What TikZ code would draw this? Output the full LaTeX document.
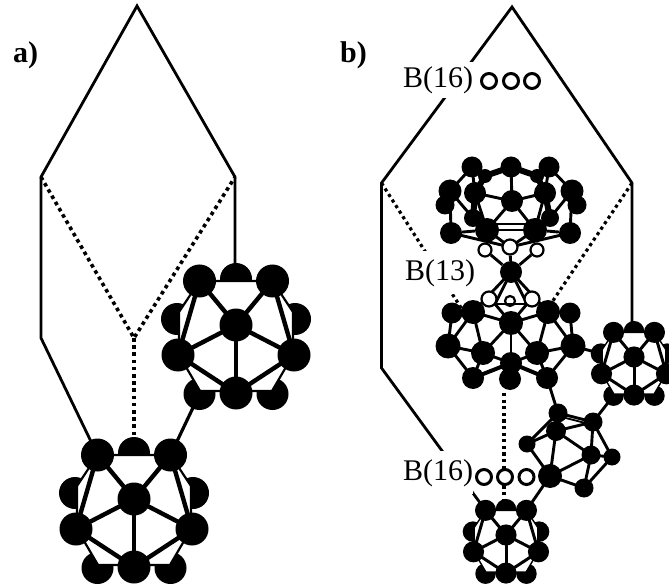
\documentclass[tikz,border=0pt]{standalone}
\usepackage{fontspec}
\usetikzlibrary{backgrounds}
\setmainfont{Liberation Serif}
\tikzset{
  atom/.style={circle,fill=black,inner sep=0pt,minimum size=#1},
  ringatom/.style={circle,draw=black,fill=white,line width=2.2pt,inner sep=0pt,minimum size=#1},
  frameline/.style={line width=2.8pt,line join=miter},
  dotline/.style={line width=3.6pt,dash pattern=on 3.6pt off 3.6pt},
  dotlineb/.style={line width=3.2pt,dash pattern=on 3.2pt off 3.4pt},
  bond/.style={line width=2.9pt},
  thinbond/.style={line width=1.8pt},
  heavybond/.style={line width=6pt},
  biglabel/.style={font=\fontsize{30}{30}\selectfont\bfseries,anchor=base west,inner sep=0pt},
  atomlabel/.style={font=\fontsize{30}{30}\selectfont,anchor=base west,inner xsep=0pt,inner ysep=#1,fill=white}
}
% fullerene-like cage: name, x, y, scale
\newcommand{\cagemol}[4]{%
  \pgfmathsetlengthmacro{\cbig}{33pt*#4+6pt*(1-#4)}%
  \pgfmathsetlengthmacro{\cback}{32pt*#4+6pt*(1-#4)}%
  \pgfmathsetlengthmacro{\cbond}{3.2pt*#4+1.2pt}%
  \pgfmathsetlengthmacro{\cthin}{max(1.4pt,2.2pt*#4)}%
  \begin{scope}[shift={(#2,#3)},scale=#4]
    \foreach \n/\x/\y in {TM/0/-46,BL/-59/-6,BR/59/-6,BBL/-36.5/69,BBR/36.5/69}
      \node[atom=\cback] (#1\n) at (\x,\y) {};
    \coordinate (#1a) at (-36.5,-44);
    \coordinate (#1b) at (36.5,-44);
    \coordinate (#1c) at (57,-13);
    \coordinate (#1d) at (57,30);
    \coordinate (#1e) at (36,66);
    \coordinate (#1f) at (-36,66);
    \coordinate (#1g) at (-57,30);
    \coordinate (#1h) at (-57,-13);
    \draw[black,fill=white,line width=\cthin] (#1a)--(#1b)--(#1c)--(#1d)--(#1e)--(#1f)--(#1g)--(#1h)--cycle;
    \foreach \n/\x/\y in {TL/-36.5/-44,TR/36.5/-44,C/0/0,L/-58/30,R/58/30,B/0/68}
      \node[atom=\cbig] (#1\n) at (\x,\y) {};
    \foreach \a/\b in {TL/C,TR/C,C/L,C/R,C/B,TL/L,TR/R,L/B,R/B}
      \draw[line width=\cbond] (#1\a.center)--(#1\b.center);
  \end{scope}%
}
\begin{document}
\begin{tikzpicture}[x=1pt,y=-1pt]
\useasboundingbox (0,0) rectangle (669,585);
% ---- cages, panel a
\cagemol{P}{134}{499}{1}
\cagemol{Q}{236}{325}{1}
% ---- cages, panel b
\cagemol{S}{506}{535}{0.56}
\cagemol{T}{634}{357}{0.56}
% ---- upper central cage
\foreach \n/\x/\y/\d in {u1/472/167/21,u2/511/167/21,u3/549/167/21,u17/485/176/14,u18/537/176/14,
   u9/445/205/19,u10/577/205/19,u11/473/218/18,u12/550/218/18}
  \node[atom=\d pt] (\n) at (\x,\y) {};
\foreach \n/\x/\y/\d in {u4/450/191/23,u5/475/193/22,u6/512/201/22,u7/545/193/22,u8/572/191/23,
   u13/451/233/22,u14/487/230/24,u15/535/230/24,u16/570/233/22}
  \node[atom=\d pt] (\n) at (\x,\y) {};
\foreach \n/\x/\y/\d in {w2/485/250/13,w3/537/250/13}
  \node[ringatom=\d pt] (\n) at (\x,\y) {};
\node[atom=22pt] (k) at (511,272) {};
\foreach \a/\b in {u1/u4,u3/u8,u1/u5,u3/u7,u2/u6,u6/u5,u6/u7,u6/u14,u6/u15,u5/u14,u7/u15,
   u4/u13,u8/u16,u4/u11,u8/u12,u9/u4,u10/u8}
  \draw[bond] (\a.center)--(\b.center);
\draw[bond] (w2)--(k);
\draw[bond] (w3)--(k);
\foreach \a/\b in {u1/u17,u17/u2,u2/u18,u18/u3,u17/u5,u18/u7,u11/u14,u12/u15,u5/u11,u7/u12}
  \draw[heavybond] (\a.center)--(\b.center);
\draw[thinbond] (u14)--(u15);
\draw[thinbond] ([yshift=6pt]u14.center)--([yshift=6pt]u15.center);
\draw[bond] (u13.center)--(510,247)--(u16.center);
\draw[bond] (u13)--(u14);
\draw[bond] (u15)--(u16);
\draw[bond] (u14.center)--(510,247)--(u15.center);
\node[ringatom=15pt] (w1) at (510,247) {};
\draw[bond] (w1)--(k);
% ---- lower central cage
\coordinate (cl) at (495,304);
\coordinate (cr) at (527,304);
\foreach \n/\x/\y/\d in {m1/452/313/21,m4/570/313/21,m2/473/312/24,m3/548/312/24,m6/511/323/24,
   m7/448/346/25,m8/573/346/25,m9/483/353/24,m10/537/353/24,m11/511/363/22,
   m12/473/378/22,m13/510/379/22,m14/547/378/22}
  \node[atom=\d pt] (\n) at (\x,\y) {};
\foreach \a/\b in {k/m2,k/m3,k/cl,k/cr,cl/m6,cr/m6,m2/m6,m3/m6,m6/m9,m6/m10,m6/m11,m2/m9,m3/m10,
   m1/m2,m3/m4,m1/m7,m4/m8,m2/m7,m3/m8,m7/m9,m8/m10,m9/m11,m10/m11,m9/m12,m10/m14,m7/m12,m8/m14}
  \draw[bond] (\a.center)--(\b.center);
\foreach \a/\b in {m11/m13,m12/m11,m14/m11}
  \draw[line width=4pt] (\a.center)--(\b.center);
\foreach \n/\x/\y/\d in {w4/489/299/15,w5/532/299/15,w6/510/301/10}
  \node[ringatom=\d pt] (\n) at (\x,\y) {};
\draw[bond] (cl)--(cr);
\draw[bond] (m2)--(w4);
\draw[bond] (m3)--(w5);
% ---- boron unit between the cages
\foreach \n/\x/\y/\d in {i1/558/413/19,i2/593/422/19,i3/556/431/20,i4/527/444/17,i5/591/455/19,
   i6/612/457/17,i7/550/476/24,i8/584/488/19}
  \node[atom=\d pt] (\n) at (\x,\y) {};
\foreach \a/\b in {i4/i1,i1/i2,i2/i6,i6/i8,i8/i7,i7/i4,i3/i4,i3/i1,i3/i2,i3/i7,i3/i5,i5/i2,i5/i6,i5/i8,i5/i7}
  \draw[bond] (\a.center)--(\b.center);
\draw[thinbond] ([yshift=-3pt]i1.center)--([yshift=-3pt]i2.center);
\foreach \a/\b in {m8/TBL,m14/i1,i2/TBBL,i7/STR}
  \draw[bond] (\a.center)--(\b.center);
\begin{scope}[on background layer]
  \fill[white] (0,0) rectangle (669,585);
  % panel a
  \coordinate (at) at (137,6);
  \coordinate (al) at (41,177);
  \coordinate (ar) at (235,177);
  \coordinate (alb) at (41,338);
  \coordinate (av) at (134,338);
  \draw[frameline] (ar|-QTM)--(ar)--(at)--(al)--(alb)--(PTL.center);
  \draw[dotline] (al)--(av)--(ar);
  \draw[dotline] (av)--(PTM);
  \draw[line width=3.2pt] (QBBL.center)--(PTR.center);
  % panel b
  \coordinate (bt) at (512,7);
  \coordinate (bl) at (381.5,183);
  \coordinate (br) at (632,183);
  \coordinate (blb) at (381.5,368);
  \coordinate (bvl) at (465,314);
  \coordinate (bvr) at (540,320);
  \coordinate (bvv) at (504,393);
  \draw[frameline] (br|-TTM)--(br)--(bt)--(bl)--(blb)--(STL.center);
  \draw[dotlineb] (bl)--(bvl);
  \draw[dotlineb] (br)--(bvr);
  \draw[dotlineb] (bvv)--(bvv|-STM);
  % labels
  \node[biglabel] (la) at (13,63) {a)};
  \node[biglabel] (lb) at (340,63) {b)};
  \node[atomlabel=4pt] (l16a) at (403,87.3) {B(16)};
  \node[atomlabel=8pt] (l13) at (405,280) {B(13)};
  \node[atomlabel=8pt] (l16b) at (403,480) {B(16)};
  \foreach \n/\x/\y in {r1/489/81,r2/511/81,r3/532/81,r4/484/477,r5/505/477,r6/526.5/477}
    \node[ringatom=15pt,line width=3pt] (\n) at (\x,\y) {};
\end{scope}
\end{tikzpicture}
\end{document}
